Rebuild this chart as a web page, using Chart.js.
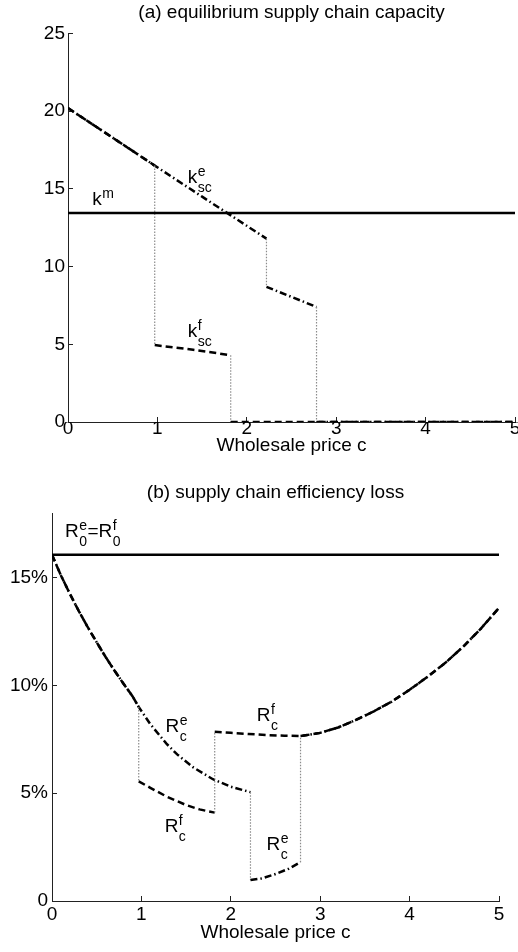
<!DOCTYPE html>
<html lang="en">
<head>
<meta charset="UTF-8">
<title>Supply chain capacity and efficiency loss</title>
<script src="https://cdn.jsdelivr.net/npm/chart.js"></script>
<style>
    html, body { margin: 0; padding: 0; background: #fff; }
    .wrap { position: relative; width: 518px; height: 952px; }
    .panel { position: absolute; left: 0; width: 518px; height: 476px; }
</style>
</head>
<body>
<div class="wrap">
    <div class="panel" style="top:0"><canvas id="capChart" width="518" height="476"></canvas></div>
    <div class="panel" style="top:476px"><canvas id="lossChart" width="518" height="476"></canvas></div>
</div>

<script>
// shared x axis
const priceTicks = [0, 1, 2, 3, 4, 5];

// (a) capacity
const capTicks = [0, 5, 10, 15, 20, 25];
const kmX = [0, 5];
const kmY = [13.45, 13.45];
const kscEX = [0, 0.97, 1.5, 2.22, 2.22, 2.5, 2.78, 2.78, 5];
const kscEY = [20.2, 16.5, 14.5, 11.8, 8.7, 8.05, 7.4, 0, 0];
const kscFX = [0, 0.97, 0.97, 1.4, 1.82, 1.82, 5];
const kscFY = [20.2, 16.5, 4.95, 4.65, 4.3, 0, 0];

// (b) efficiency loss, in %
const lossTicks = [0, 5, 10, 15];
const lossTickLabels = ['0', '5%', '10%', '15%'];
const r0X = [0, 5];
const r0Y = [16.06, 16.06];
const rcEX = [0, 0.1, 0.2, 0.3, 0.4, 0.5, 0.6, 0.7, 0.8, 0.9, 0.97, 1.1, 1.28, 1.4, 1.58, 1.8, 2.0, 2.22,
              2.22, 2.35, 2.5, 2.65, 2.78,
              2.78, 3.0, 3.2, 3.4, 3.6, 3.8, 4.0, 4.2, 4.4, 4.6, 4.8, 5.0];
const rcEY = [16.06, 15.1, 14.25, 13.45, 12.7, 12.0, 11.32, 10.68, 10.08, 9.5, 9.0, 8.2, 7.3, 6.8, 6.2, 5.65, 5.3, 5.05,
              0.97, 1.05, 1.25, 1.5, 1.8,
              7.65, 7.8, 8.05, 8.4, 8.8, 9.25, 9.8, 10.4, 11.05, 11.8, 12.65, 13.6];
const rcFX = [0, 0.1, 0.2, 0.3, 0.4, 0.5, 0.6, 0.7, 0.8, 0.9, 0.97,
              0.97, 1.1, 1.28, 1.5, 1.65, 1.82,
              1.82, 2.0, 2.2, 2.4, 2.6, 2.78,
              3.0, 3.2, 3.4, 3.6, 3.8, 4.0, 4.2, 4.4, 4.6, 4.8, 5.0];
const rcFY = [16.06, 15.1, 14.25, 13.45, 12.7, 12.0, 11.32, 10.68, 10.08, 9.5, 9.0,
              5.55, 5.25, 4.85, 4.45, 4.25, 4.1,
              7.85, 7.8, 7.75, 7.7, 7.67, 7.65,
              7.8, 8.05, 8.4, 8.8, 9.25, 9.8, 10.4, 11.05, 11.8, 12.65, 13.6];

const FONT = '"Liberation Sans", Arial, sans-serif';
const DASHED = [7, 4];
const DASHDOT = [7, 3, 1.5, 3];

// vertical jumps are drawn as thin grey dotted lines
const isJump = c => c.p0.parsed.x === c.p1.parsed.x;

function series(xs, ys, dash) {
    return {
        data: xs.map((x, i) => ({ x: x, y: ys[i] })),
        borderColor: '#000',
        borderWidth: 2.5,
        borderDash: dash,
        pointRadius: 0,
        tension: 0,
        fill: false,
        segment: {
            borderColor: c => isJump(c) ? '#8c8c8c' : undefined,
            borderDash: c => isJump(c) ? [1.5, 1.5] : undefined,
            borderWidth: c => isJump(c) ? 1.2 : undefined
        }
    };
}

const panelTitle = {
    id: 'panelTitle',
    afterDraw(chart, args, opts) {
        const { ctx, chartArea } = chart;
        ctx.save();
        ctx.font = '19px ' + FONT;
        ctx.fillStyle = '#000';
        ctx.textAlign = 'center';
        ctx.textBaseline = 'middle';
        ctx.fillText(opts.text, (chartArea.left + chartArea.right) / 2, opts.y);
        ctx.restore();
    }
};

// curve labels with super/subscripts
const curveLabels = {
    id: 'curveLabels',
    afterDatasetsDraw(chart, args, opts) {
        const ctx = chart.ctx;
        const sx = chart.scales.x, sy = chart.scales.y;
        ctx.save();
        ctx.fillStyle = '#000';
        ctx.textBaseline = 'alphabetic';
        ctx.textAlign = 'left';
        opts.items.forEach(item => {
            let cx = sx.getPixelForValue(item.x);
            const by = sy.getPixelForValue(item.y);
            item.parts.forEach(p => {
                ctx.font = '19px ' + FONT;
                ctx.fillText(p.t, cx, by);
                cx += ctx.measureText(p.t).width;
                ctx.font = '14px ' + FONT;
                let w = 0;
                if (p.sup) {
                    ctx.fillText(p.sup, cx + 0.5, by - 7);
                    w = Math.max(w, ctx.measureText(p.sup).width);
                }
                if (p.sub) {
                    ctx.fillText(p.sub, cx + 0.5, by + 9);
                    w = Math.max(w, ctx.measureText(p.sub).width);
                }
                cx += w + (w ? 1 : 0);
            });
        });
        ctx.restore();
    }
};

function buildScales(s) {
    return {
        x: {
            type: 'linear', min: 0, max: 5,
            afterBuildTicks: sc => { sc.ticks = priceTicks.map(v => ({ value: v })); },
            afterFit: sc => { sc.height = s.xHeight; sc.paddingLeft = 0; sc.paddingRight = 0; },
            grid: { drawOnChartArea: false, tickLength: -5, color: '#222', lineWidth: 1 },
            border: { color: '#222', width: 1 },
            ticks: { color: '#000', font: { family: FONT, size: 19 }, padding: s.xPad, maxRotation: 0, autoSkip: false },
            title: { display: true, text: 'Wholesale price c', color: '#000',
                     font: { family: FONT, size: 19 }, padding: { top: 0, bottom: s.titlePad } }
        },
        y: {
            type: 'linear', min: 0, max: s.yMax,
            afterBuildTicks: sc => { sc.ticks = s.yTicks.map(v => ({ value: v })); },
            afterFit: sc => { sc.width = s.yWidth; sc.paddingTop = 0; sc.paddingBottom = 0; },
            grid: { drawOnChartArea: false, tickLength: -5, color: '#222', lineWidth: 1 },
            border: { color: '#222', width: 1 },
            ticks: { color: '#000', font: { family: FONT, size: 19 }, padding: s.yPad, autoSkip: false,
                     callback: s.yLabel }
        }
    };
}

new Chart(document.getElementById('capChart'), {
    type: 'line',
    data: {
        datasets: [
            series(kmX, kmY, []),
            series(kscFX, kscFY, DASHED),
            series(kscEX, kscEY, DASHDOT)
        ]
    },
    options: {
        responsive: false,
        animation: false,
        layout: { padding: { top: 33.5, right: 3, left: 0, bottom: 0 } },
        plugins: {
            legend: { display: false },
            tooltip: { enabled: false },
            panelTitle: { text: '(a) equilibrium supply chain capacity', y: 13 },
            curveLabels: {
                items: [
                    { x: 0.27, y: 13.96, parts: [{ t: 'k', sup: 'm' }] },
                    { x: 1.34, y: 15.38, parts: [{ t: 'k', sup: 'e', sub: 'sc' }] },
                    { x: 1.34, y: 5.47, parts: [{ t: 'k', sup: 'f', sub: 'sc' }] }
                ]
            }
        },
        scales: buildScales({
            xHeight: 54, xPad: 0.6, titlePad: 18.6,
            yMax: 25, yTicks: capTicks, yWidth: 68, yPad: 8,
            yLabel: v => String(v)
        })
    },
    plugins: [panelTitle, curveLabels]
});

new Chart(document.getElementById('lossChart'), {
    type: 'line',
    data: {
        datasets: [
            series(r0X, r0Y, []),
            series(rcFX, rcFY, DASHED),
            series(rcEX, rcEY, DASHDOT)
        ]
    },
    options: {
        responsive: false,
        animation: false,
        layout: { padding: { top: 37, right: 19, left: 0, bottom: 0 } },
        plugins: {
            legend: { display: false },
            tooltip: { enabled: false },
            panelTitle: { text: '(b) supply chain efficiency loss', y: 17 },
            curveLabels: {
                items: [
                    { x: 0.145, y: 16.88, parts: [{ t: 'R', sup: 'e', sub: '0' }, { t: '=R', sup: 'f', sub: '0' }] },
                    { x: 1.27, y: 7.84, parts: [{ t: 'R', sup: 'e', sub: 'c' }] },
                    { x: 1.26, y: 3.2, parts: [{ t: 'R', sup: 'f', sub: 'c' }] },
                    { x: 2.29, y: 8.35, parts: [{ t: 'R', sup: 'f', sub: 'c' }] },
                    { x: 2.4, y: 2.37, parts: [{ t: 'R', sup: 'e', sub: 'c' }] }
                ]
            }
        },
        scales: buildScales({
            xHeight: 51, xPad: 7.6, titlePad: 7.6,
            yMax: 18, yTicks: lossTicks, yWidth: 52, yPad: 9,
            yLabel: v => lossTickLabels[lossTicks.indexOf(v)]
        })
    },
    plugins: [panelTitle, curveLabels]
});
</script>
</body>
</html>
